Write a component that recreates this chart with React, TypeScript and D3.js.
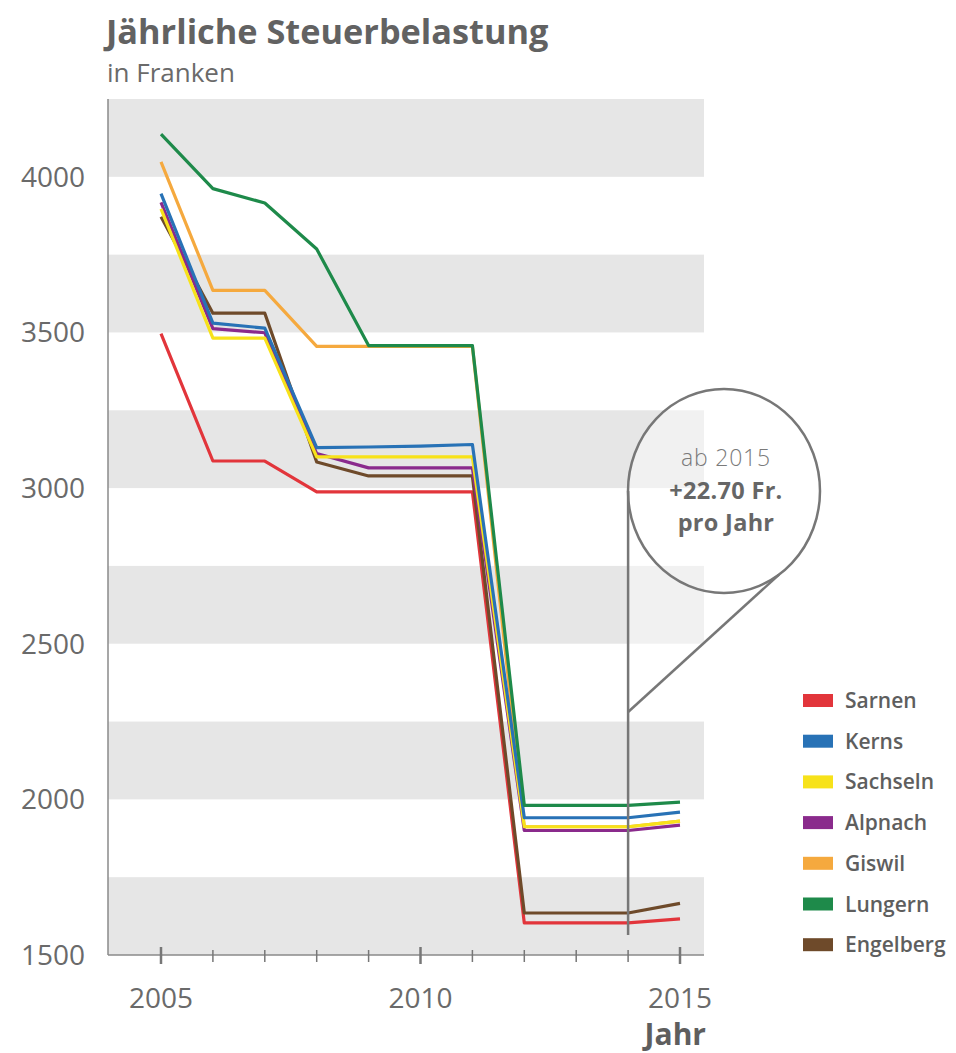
import React, { useEffect, useRef } from 'react';
import * as d3 from 'd3';

const years = [2005, 2006, 2007, 2008, 2009, 2010, 2011, 2012, 2013, 2014, 2015];

const sarnen = [3496, 3087, 3087, 2988, 2988, 2988, 2988, 1603, 1603, 1603, 1616];
const kerns = [3946, 3530, 3514, 3130, 3132, 3135, 3140, 1941, 1941, 1941, 1959];
const sachseln = [3897, 3482, 3482, 3100, 3100, 3100, 3100, 1912, 1912, 1912, 1930];
const alpnach = [3918, 3512, 3499, 3111, 3065, 3065, 3065, 1900, 1900, 1900, 1917];
const giswil = [4048, 3635, 3635, 3455, 3455, 3455, 3455, 1912, 1912, 1912, 1930];
const lungern = [4137, 3962, 3916, 3768, 3458, 3458, 3458, 1981, 1981, 1981, 1991];
const engelberg = [3872, 3562, 3562, 3084, 3039, 3039, 3039, 1635, 1635, 1635, 1666];

const legendNames = ['Sarnen', 'Kerns', 'Sachseln', 'Alpnach', 'Giswil', 'Lungern', 'Engelberg'];
const yTicks = [1500, 2000, 2500, 3000, 3500, 4000];
const xLabels = [2005, 2010, 2015];
const bubbleLines = ['ab 2015', '+22.70 Fr.', 'pro Jahr'];

const colors: Record<string, string> = {
  Sarnen: '#e2353b',
  Kerns: '#2872b6',
  Sachseln: '#f7e21a',
  Alpnach: '#8a2a8c',
  Giswil: '#f5a93e',
  Lungern: '#1e8a4a',
  Engelberg: '#6e4a2a',
};

const seriesValues: Record<string, number[]> = {
  Sarnen: sarnen,
  Kerns: kerns,
  Sachseln: sachseln,
  Alpnach: alpnach,
  Giswil: giswil,
  Lungern: lungern,
  Engelberg: engelberg,
};

// painting order (bottom first)
const drawOrder = ['Giswil', 'Sarnen', 'Engelberg', 'Alpnach', 'Sachseln', 'Kerns', 'Lungern'];

const FONT = '"Open Sans", "Noto Sans", sans-serif';
const TEXT = '#6a6a6a';

export default function App() {
  const svgRef = useRef<SVGSVGElement>(null);

  useEffect(() => {
    if (!svgRef.current) return;
    const svg = d3.select(svgRef.current);
    svg.selectAll('*').remove();

    const plotLeft = 108;
    const plotRight = 704;
    const plotTop = 99;
    const plotBottom = 955;

    const x = d3.scaleLinear().domain([2005, 2015]).range([161, 680]);
    const y = d3.scaleLinear().domain([1500, 4250]).range([plotBottom, plotTop]);

    // Title
    svg.append('text')
      .attr('x', 106).attr('y', 44)
      .attr('font-family', FONT).attr('font-size', 34.3).attr('font-weight', 700)
      .attr('fill', '#626262')
      .text('Jährliche Steuerbelastung');
    svg.append('text')
      .attr('x', 107).attr('y', 82)
      .attr('font-family', FONT).attr('font-size', 26).attr('font-weight', 400)
      .attr('fill', TEXT)
      .text('in Franken');

    // Bands
    svg.append('g')
      .selectAll('rect')
      .data(yTicks)
      .enter()
      .append('rect')
      .attr('x', plotLeft)
      .attr('width', plotRight - plotLeft)
      .attr('y', d => y(d + 250))
      .attr('height', d => y(d) - y(d + 250))
      .attr('fill', '#e6e6e6');

    // Y axis line + labels
    svg.append('line')
      .attr('x1', plotLeft).attr('x2', plotLeft)
      .attr('y1', plotTop).attr('y2', plotBottom)
      .attr('stroke', '#8a8a8a').attr('stroke-width', 1.5);

    svg.append('g')
      .selectAll('text')
      .data(yTicks)
      .enter()
      .append('text')
      .attr('x', 85)
      .attr('y', d => y(d) + 10)
      .attr('text-anchor', 'end')
      .attr('font-family', FONT).attr('font-size', 28)
      .attr('fill', TEXT)
      .text(d => d);

    // X axis
    svg.append('line')
      .attr('x1', plotLeft).attr('x2', plotRight)
      .attr('y1', plotBottom).attr('y2', plotBottom)
      .attr('stroke', '#8a8a8a').attr('stroke-width', 1.5);

    svg.append('g')
      .selectAll('line')
      .data(years)
      .enter()
      .append('line')
      .attr('x1', d => x(d)).attr('x2', d => x(d))
      .attr('y1', d => plotBottom - (d % 5 === 0 ? 8 : 5))
      .attr('y2', d => plotBottom + (d % 5 === 0 ? 9 : 7))
      .attr('stroke', '#777')
      .attr('stroke-width', d => (d % 5 === 0 ? 2.5 : 1.5));

    svg.append('g')
      .selectAll('text')
      .data(xLabels)
      .enter()
      .append('text')
      .attr('x', d => x(d))
      .attr('y', 1008)
      .attr('text-anchor', 'middle')
      .attr('font-family', FONT).attr('font-size', 28)
      .attr('fill', TEXT)
      .text(d => d);

    svg.append('text')
      .attr('x', 706).attr('y', 1045)
      .attr('text-anchor', 'end')
      .attr('font-family', FONT).attr('font-size', 30).attr('font-weight', 700)
      .attr('fill', '#5e5e5e')
      .text('Jahr');

    // Lines
    const line = d3.line<number>()
      .x((_, i) => x(years[i]))
      .y(d => y(d));

    svg.append('g')
      .selectAll('path')
      .data(drawOrder)
      .enter()
      .append('path')
      .attr('d', name => line(seriesValues[name]))
      .attr('fill', 'none')
      .attr('stroke', name => colors[name])
      .attr('stroke-width', 3.2)
      .attr('stroke-linejoin', 'round');

    // Callout bubble
    const cx = 724, cy = 491, rx = 96, ry = 102;
    const tailX = x(2014);
    const tailY = 712;
    const ang = (55 * Math.PI) / 180;
    const px = cx + rx * Math.cos(ang);
    const py = cy + ry * Math.sin(ang);

    svg.append('path')
      .attr('d', `M${cx - rx},${cy} L${tailX},${tailY} L${px},${py} A${rx},${ry} 0 1 0 ${cx - rx},${cy} Z`)
      .attr('fill', '#ffffff')
      .attr('fill-opacity', 0.45)
      .attr('stroke', 'none');

    svg.append('ellipse')
      .attr('cx', cx).attr('cy', cy).attr('rx', rx).attr('ry', ry)
      .attr('fill', 'none')
      .attr('stroke', '#777').attr('stroke-width', 2.5);

    svg.append('line')
      .attr('x1', tailX).attr('x2', tailX)
      .attr('y1', cy).attr('y2', 935)
      .attr('stroke', '#777').attr('stroke-width', 2.5);

    svg.append('line')
      .attr('x1', tailX).attr('y1', tailY)
      .attr('x2', px).attr('y2', py)
      .attr('stroke', '#777').attr('stroke-width', 2.5);

    const bubbleText = svg.append('g')
      .attr('font-family', FONT)
      .attr('text-anchor', 'middle');
    bubbleText.append('text')
      .attr('x', cx + 2).attr('y', 466)
      .attr('font-size', 23).attr('font-weight', 300)
      .attr('letter-spacing', 0.8)
      .attr('fill', '#7a7a7a')
      .text(bubbleLines[0]);
    bubbleText.append('text')
      .attr('x', cx + 2).attr('y', 499)
      .attr('font-size', 23.5).attr('font-weight', 700)
      .attr('letter-spacing', 0.3)
      .attr('fill', '#666')
      .text(bubbleLines[1]);
    bubbleText.append('text')
      .attr('x', cx + 2).attr('y', 531)
      .attr('font-size', 23.5).attr('font-weight', 700)
      .attr('letter-spacing', 0.3)
      .attr('fill', '#666')
      .text(bubbleLines[2]);

    // Legend
    const legend = svg.append('g')
      .selectAll('g')
      .data(legendNames)
      .enter()
      .append('g')
      .attr('transform', (_, i) => `translate(803,${701 + i * 40.7})`);

    legend.append('rect')
      .attr('x', 0).attr('y', -7)
      .attr('width', 30).attr('height', 13)
      .attr('fill', d => colors[d]);

    legend.append('text')
      .attr('x', 42).attr('y', 7)
      .attr('font-family', FONT).attr('font-size', 21).attr('font-weight', 600)
      .attr('fill', '#5e5e5e')
      .text(d => d);
  }, []);

  return (
    <svg
      ref={svgRef}
      width={956}
      height={1053}
      style={{ position: 'absolute', left: 0, top: 0, background: '#fff' }}
    />
  );
}
